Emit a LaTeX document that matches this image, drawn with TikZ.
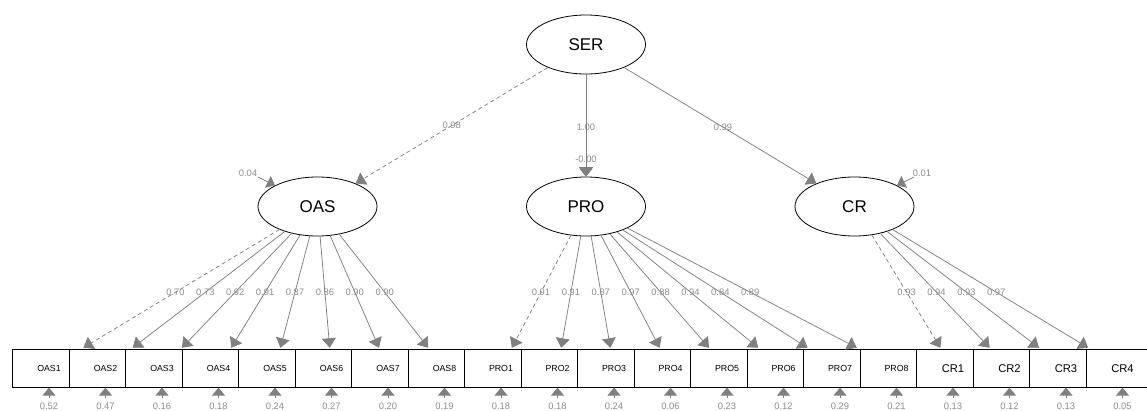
\documentclass[tikz,border=0pt]{standalone}
\usepackage{fontspec}
\setmainfont{Liberation Sans}
\usetikzlibrary{arrows.meta,calc,shapes.geometric}
\definecolor{edgegray}{HTML}{808080}
\definecolor{labgray}{HTML}{8C8C8C}
\tikzset{
  latent/.style={ellipse,draw=black,line width=0.8pt,minimum width=119pt,minimum height=59pt,inner sep=0pt,font=\fontsize{17}{17}\selectfont},
  itembox/.style={rectangle,draw=black,line width=0.8pt,minimum height=37.5pt,inner sep=0pt,anchor=north west},
  smalltxt/.style={inner sep=0pt,text=black,font=\fontsize{8.8}{9}\selectfont},
  bigtxt/.style={inner sep=0pt,text=black,font=\fontsize{11.2}{12}\selectfont},
  load/.style={draw=edgegray,color=edgegray,line width=0.75pt,-{Triangle[width=14pt,length=9.5pt]}},
  dload/.style={load,dash pattern=on 4pt off 3pt},
  res/.style={draw=edgegray,color=edgegray,line width=0.75pt,-{Triangle[width=13pt,length=8pt]}},
  num/.style={inner sep=0pt,text=labgray,font=\fontsize{9.4}{10}\selectfont},
}
\begin{document}
\begin{tikzpicture}[x=1pt,y=-1pt]
\useasboundingbox (0,0) rectangle (1147,410);
% latent variables
\node[latent] (SER) at (586,44.5) {SER};
\node[latent] (OAS) at (317.5,206.5) {OAS};
\node[latent] (PRO) at (586,206.5) {PRO};
\node[latent] (CR) at (854.5,206.5) {CR};
% structural paths
\draw[dload] (SER) -- (OAS);
\draw[load] (SER) -- (PRO);
\draw[load] (SER) -- (CR);
\node[num] (lSO) at ($(SER)!0.5!(OAS)$) {0.98};
\node[num] (lSP) at ($(SER)!0.51!(PRO)$) {1.00};
\node[num] (lSC) at ($(SER)!0.51!(CR)$) {0.99};
% latent residuals
\coordinate (OAS-r) at (258,177);
\coordinate (PRO-r) at (586,164);
\coordinate (CR-r) at (914,177);
\draw[res] (OAS-r) -- (OAS);
\draw[res] (PRO-r) -- (PRO);
\draw[res] (CR-r) -- (CR);
\node[num] (OAS-rl) at (248,173) {0.04};
\node[num] (PRO-rl) at (586,159) {-0.00};
\node[num] (CR-rl) at (922,173) {0.01};
% indicators
\foreach \nm/\lat/\k/\ld/\rs/\dl/\ft/\w in {
  OAS1/OAS/0/0.70/0.52/dload/smalltxt/56.5,
  OAS2/OAS/1/0.73/0.47/load/smalltxt/56.5,
  OAS3/OAS/2/0.92/0.16/load/smalltxt/56.5,
  OAS4/OAS/3/0.91/0.18/load/smalltxt/56.5,
  OAS5/OAS/4/0.87/0.24/load/smalltxt/56.5,
  OAS6/OAS/5/0.86/0.27/load/smalltxt/56.5,
  OAS7/OAS/6/0.90/0.20/load/smalltxt/56.5,
  OAS8/OAS/7/0.90/0.19/load/smalltxt/56.5,
  PRO1/PRO/8/0.91/0.18/dload/smalltxt/56.5,
  PRO2/PRO/9/0.91/0.18/load/smalltxt/56.5,
  PRO3/PRO/10/0.87/0.24/load/smalltxt/56.5,
  PRO4/PRO/11/0.97/0.06/load/smalltxt/56.5,
  PRO5/PRO/12/0.88/0.23/load/smalltxt/56.5,
  PRO6/PRO/13/0.94/0.12/load/smalltxt/56.5,
  PRO7/PRO/14/0.84/0.29/load/smalltxt/56.5,
  PRO8/PRO/15/0.89/0.21/load/smalltxt/56.5,
  CR1/CR/16/0.93/0.13/dload/bigtxt/56.5,
  CR2/CR/17/0.94/0.12/load/bigtxt/56.5,
  CR3/CR/18/0.93/0.13/load/bigtxt/56.5,
  CR4/CR/19/0.97/0.05/load/bigtxt/64}{
  \pgfmathsetmacro{\bx}{12+56.5*\k}
  \pgfmathsetmacro{\tx}{49+56.5*\k}
  \node[itembox,minimum width=\w pt] (\nm) at (\bx,349.3) {};
  \node[\ft] (\nm-t) at (\tx,368.5) {\nm};
  \draw[\dl] (\lat) -- ($(\lat)!0.872!(\nm-t)$);
  \node[num] (\nm-l) at ($(\lat)!0.529!(\nm-t)$) {\ld};
  \coordinate (\nm-r) at (\tx,398);
  \draw[res] (\nm-r) -- (\nm-r |- \nm.south);
  \node[num] (\nm-rl) at (\tx,406) {\rs};
}
\end{tikzpicture}
\end{document}
